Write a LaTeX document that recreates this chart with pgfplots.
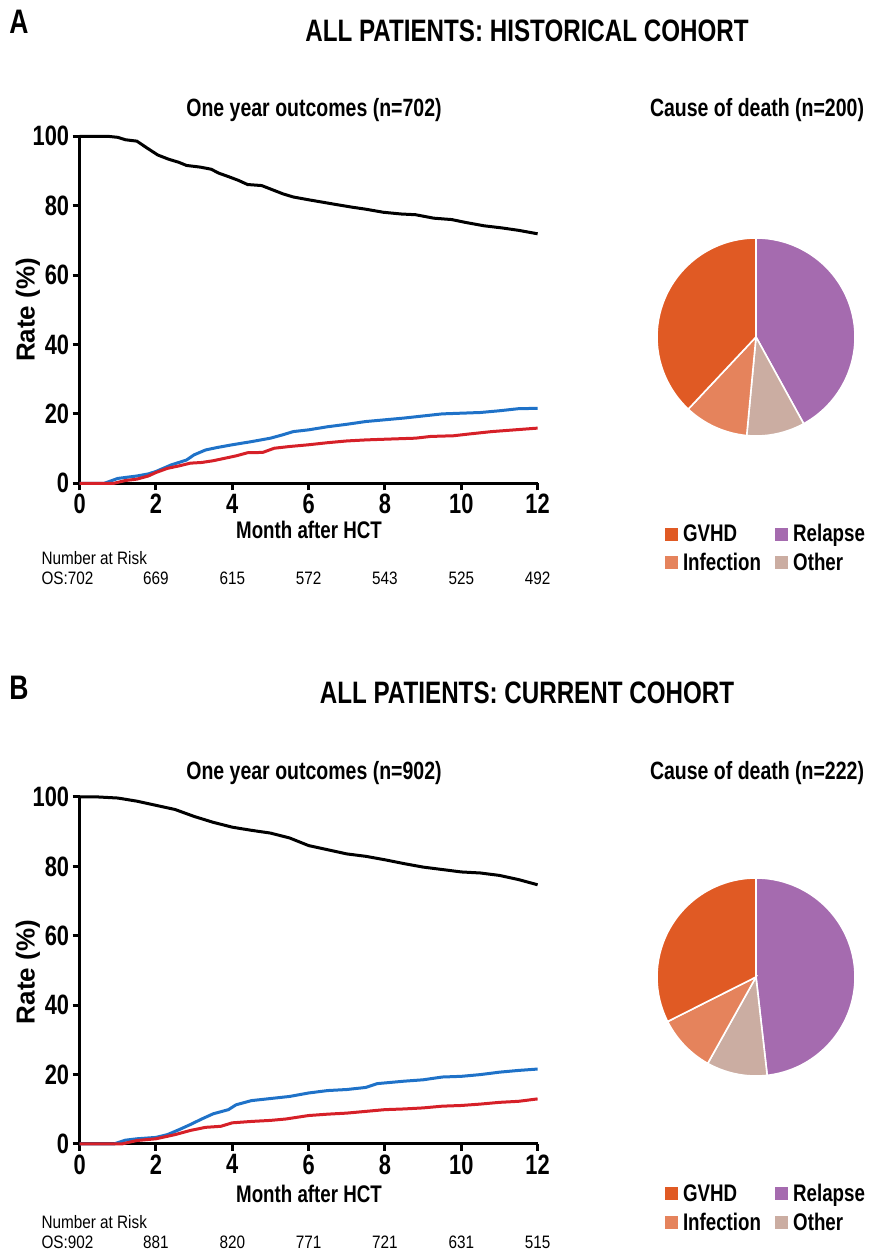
\documentclass[border=0pt]{standalone}
\usepackage{pgfplots}
\pgfplotsset{compat=1.18}
\usepackage{fontspec}
\setmainfont{Liberation Sans}[FakeStretch=0.78]
\newfontfamily\widefont{Liberation Sans}
\newfontfamily\regfont{Liberation Sans}[FakeStretch=0.85]
\definecolor{cgvhd}{HTML}{E05A24}
\definecolor{crel}{HTML}{A56BAF}
\definecolor{cinf}{HTML}{E5835C}
\definecolor{coth}{HTML}{CBADA2}
\definecolor{kmblue}{HTML}{1F72C8}
\definecolor{kmred}{HTML}{D62028}
\newcommand{\fs}[1]{\fontsize{#1}{#1}\selectfont}
\pgfplotsset{
  kmaxis/.style={scale only axis, width=458pt, height=347pt,
    xmin=0, xmax=12, ymin=0, ymax=100,
    xtick={0,2,...,12}, ytick={0,20,...,100},
    axis lines=left, axis line style={line width=3pt, -},
    tick style={line width=3pt, black}, major tick length=7pt, tick align=outside,
    /pgf/number format/assume math mode=true,
    ticklabel style={font=\bfseries\fs{28}},
    clip=false},
  pieaxis/.style={scale only axis, width=198pt, height=198pt,
    xmin=-1, xmax=1, ymin=-1, ymax=1, hide axis, clip=false,
    legend columns=2, legend cell align=left,
    legend image code/.code={\fill[##1] (0pt,-6pt) rectangle (12pt,6pt); \path[draw=none,fill=none] (0pt,0pt) (16pt,0pt);},
    legend style={draw=none, fill=none, font=\bfseries\fs{24}, inner sep=0pt,
      row sep=6pt, /tikz/every even column/.append style={column sep=12pt},
      anchor=north}},
  slice/.style={draw=white, line width=1.6pt, samples=90, forget plot}
}
% pie data (counts)
\def\pArel{84}\def\pAoth{19}\def\pAinf{21}\def\pAgv{76}\def\pAn{200}
\def\pBrel{107}\def\pBoth{22}\def\pBinf{21}\def\pBgv{72}\def\pBn{222}
\begin{document}
\begin{tikzpicture}[x=1pt,y=1pt]
\path[use as bounding box] (0,0) rectangle (871,1257);
% ---------- Panel A ----------
\node[font=\bfseries\fs{34}] at (19,1257-22) {A};
\node[font=\bfseries\fs{31}] at (527,1257-31) {ALL PATIENTS: HISTORICAL COHORT};
\node[font=\bfseries\fs{25}] at (314,1257-110) {One year outcomes (n=702)};
\node[font=\bfseries\fs{25}] at (757,1257-110) {Cause of death (n=200)};
\begin{axis}[kmaxis, at={(79.6pt,773.7pt)}, anchor=south west]
\addplot[black, line width=3pt] coordinates {(0,100) (0.73,100) (1.0,99.7) (1.2,99.0) (1.5,98.6) (1.77,96.6) (2.05,94.6) (2.33,93.4) (2.6,92.5) (2.8,91.6) (3.17,91.1) (3.45,90.5) (3.64,89.4) (3.92,88.3) (4.16,87.3) (4.4,86.1) (4.77,85.8) (5.05,84.6) (5.33,83.4) (5.6,82.5) (6.0,81.7) (6.37,81.0) (6.74,80.3) (7.12,79.6) (7.49,79.0) (7.96,78.1) (8.43,77.6) (8.8,77.4) (9.28,76.4) (9.75,76.0) (10.1,75.2) (10.6,74.2) (11.06,73.6) (11.5,72.9) (12,71.9)};
\addplot[kmblue, line width=3pt] coordinates {(0,0) (0.65,0) (1.0,1.4) (1.5,2.1) (1.8,2.7) (2.0,3.4) (2.4,5.3) (2.8,6.7) (3.0,8.2) (3.3,9.6) (3.6,10.3) (4.0,11.1) (4.5,12.0) (5.0,13.0) (5.3,13.9) (5.6,14.9) (6.0,15.4) (6.5,16.3) (7.0,17.0) (7.5,17.8) (8.0,18.3) (8.5,18.8) (9.0,19.4) (9.5,20.0) (10.0,20.2) (10.5,20.4) (11.0,20.9) (11.5,21.5) (12,21.6)};
\addplot[kmred, line width=3pt] coordinates {(0,0) (0.9,0) (1.2,0.8) (1.5,1.2) (1.8,2.1) (2.0,3.1) (2.3,4.3) (2.6,5.0) (2.9,5.8) (3.2,6.0) (3.5,6.5) (3.8,7.2) (4.1,7.9) (4.4,8.8) (4.8,8.9) (5.1,10.1) (5.5,10.6) (6.0,11.1) (6.5,11.7) (7.0,12.2) (7.5,12.5) (8.0,12.7) (8.8,13.0) (9.2,13.5) (9.8,13.7) (10.2,14.2) (10.8,14.9) (11.4,15.4) (12,15.9)};
\end{axis}
\node[font=\widefont\bfseries\fs{26}, rotate=90] at (28,1257-310) {Rate (\%)};
\node[font=\bfseries\fs{24}] at (309,1257-530) {Month after HCT};
\node[font=\regfont\fs{18}, anchor=west] at (38,1257-558) {Number at Risk};
\node[font=\regfont\fs{18}, anchor=west] at (38,1257-578) {OS:702};
\foreach \xx/\nn in {2/669,4/615,6/572,8/543,10/525,12/492}
  \node[font=\regfont\fs{18}] at (79.6+\xx*38.17,1257-578) {\nn};
\pgfmathsetmacro{\aA}{90}
\pgfmathsetmacro{\aB}{\aA-\pArel/\pAn*360}
\pgfmathsetmacro{\aC}{\aB-\pAoth/\pAn*360}
\pgfmathsetmacro{\aD}{\aC-\pAinf/\pAn*360}
\pgfmathsetmacro{\aE}{\aD-\pAgv/\pAn*360}
\begin{axis}[pieaxis, at={(756pt,920pt)}, anchor=center, legend style={at={(0.55,-0.435)}}]
\addplot[slice, fill=crel, domain=\aB:\aA] ({cos(x)},{sin(x)}) -- (axis cs:0,0) -- cycle;
\addplot[slice, fill=coth, domain=\aC:\aB] ({cos(x)},{sin(x)}) -- (axis cs:0,0) -- cycle;
\addplot[slice, fill=cinf, domain=\aD:\aC] ({cos(x)},{sin(x)}) -- (axis cs:0,0) -- cycle;
\addplot[slice, fill=cgvhd, domain=\aE:\aD] ({cos(x)},{sin(x)}) -- (axis cs:0,0) -- cycle;
\addlegendimage{cgvhd}\addlegendentry{GVHD}
\addlegendimage{crel}\addlegendentry{Relapse}
\addlegendimage{cinf}\addlegendentry{Infection}
\addlegendimage{coth}\addlegendentry{Other}
\end{axis}
% ---------- Panel B ----------
\node[font=\bfseries\fs{34}] at (19,1257-688) {B};
\node[font=\bfseries\fs{31}] at (527,1257-693) {ALL PATIENTS: CURRENT COHORT};
\node[font=\bfseries\fs{25}] at (314,1257-773) {One year outcomes (n=902)};
\node[font=\bfseries\fs{25}] at (757,1257-773) {Cause of death (n=222)};
\begin{axis}[kmaxis, at={(79.6pt,113pt)}, anchor=south west]
\addplot[black, line width=3pt] coordinates {(0,100) (0.5,100) (1.0,99.7) (1.5,98.8) (2.0,97.6) (2.5,96.4) (3.0,94.4) (3.5,92.7) (4.0,91.3) (4.5,90.4) (5.0,89.6) (5.5,88.2) (6.0,86.0) (6.5,84.8) (7.0,83.6) (7.5,82.9) (8.0,81.9) (8.5,80.8) (9.0,79.8) (9.5,79.1) (10.0,78.4) (10.5,78.1) (11.0,77.4) (11.5,76.2) (12,74.7)};
\addplot[kmblue, line width=3pt] coordinates {(0,0) (0.9,0) (1.2,1.1) (1.5,1.5) (2.0,1.9) (2.3,2.7) (2.6,4.1) (2.9,5.6) (3.2,7.2) (3.5,8.7) (3.9,9.9) (4.1,11.3) (4.5,12.5) (5.0,13.1) (5.5,13.7) (6.0,14.7) (6.5,15.4) (7.0,15.7) (7.5,16.3) (7.8,17.4) (8.5,18.1) (9.0,18.5) (9.5,19.3) (10.0,19.5) (10.5,20.0) (11.0,20.7) (11.5,21.2) (12,21.6)};
\addplot[kmred, line width=3pt] coordinates {(0,0) (1.1,0) (1.5,1.0) (2.0,1.5) (2.5,2.7) (2.9,3.9) (3.3,4.8) (3.7,5.1) (4.0,6.1) (4.5,6.5) (5.0,6.8) (5.4,7.2) (6.0,8.2) (6.5,8.6) (7.0,8.9) (7.5,9.4) (8.0,9.9) (8.5,10.1) (9.0,10.4) (9.5,10.9) (10.0,11.1) (10.5,11.5) (11.0,12.0) (11.5,12.3) (12,13.0)};
\end{axis}
\node[font=\widefont\bfseries\fs{26}, rotate=90] at (28,1257-972) {Rate (\%)};
\node[font=\bfseries\fs{24}] at (309,1257-1194) {Month after HCT};
\node[font=\regfont\fs{18}, anchor=west] at (38,1257-1222) {Number at Risk};
\node[font=\regfont\fs{18}, anchor=west] at (38,1257-1242) {OS:902};
\foreach \xx/\nn in {2/881,4/820,6/771,8/721,10/631,12/515}
  \node[font=\regfont\fs{18}] at (79.6+\xx*38.17,1257-1242) {\nn};
\pgfmathsetmacro{\bA}{90}
\pgfmathsetmacro{\bB}{\bA-\pBrel/\pBn*360}
\pgfmathsetmacro{\bC}{\bB-\pBoth/\pBn*360}
\pgfmathsetmacro{\bD}{\bC-\pBinf/\pBn*360}
\pgfmathsetmacro{\bE}{\bD-\pBgv/\pBn*360}
\begin{axis}[pieaxis, at={(756pt,280pt)}, anchor=center, legend style={at={(0.55,-0.535)}}]
\addplot[slice, fill=crel, domain=\bB:\bA] ({cos(x)},{sin(x)}) -- (axis cs:0,0) -- cycle;
\addplot[slice, fill=coth, domain=\bC:\bB] ({cos(x)},{sin(x)}) -- (axis cs:0,0) -- cycle;
\addplot[slice, fill=cinf, domain=\bD:\bC] ({cos(x)},{sin(x)}) -- (axis cs:0,0) -- cycle;
\addplot[slice, fill=cgvhd, domain=\bE:\bD] ({cos(x)},{sin(x)}) -- (axis cs:0,0) -- cycle;
\addlegendimage{cgvhd}\addlegendentry{GVHD}
\addlegendimage{crel}\addlegendentry{Relapse}
\addlegendimage{cinf}\addlegendentry{Infection}
\addlegendimage{coth}\addlegendentry{Other}
\end{axis}
\end{tikzpicture}
\end{document}
